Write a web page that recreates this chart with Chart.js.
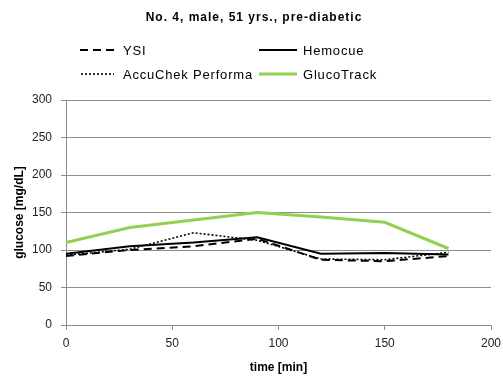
<!DOCTYPE html>
<html><head><meta charset="utf-8">
<script src="https://cdn.jsdelivr.net/npm/chart.js@4/dist/chart.umd.min.js"></script>
<style>html,body{margin:0;padding:0;background:#fff;}#wrap{width:503px;height:376px;position:relative;}</style>
</head><body><div id="wrap"><canvas id="c" width="503" height="376"></canvas></div>
<script>
const chartTitle = "No. 4, male, 51 yrs., pre-diabetic";
const times = [0, 30, 60, 90, 120, 150, 180];
const ysi = [92, 100, 105, 115, 87, 85, 92];
const hemocue = [95, 105, 110, 117, 95, 96, 94];
const accuchek = [93, 101, 123, 113, 88, 87, 97];
const glucotrack = [110, 130, 140, 150, 144, 137, 102];
const xTicks = [0, 50, 100, 150, 200];
const yTicks = [0, 50, 100, 150, 200, 250, 300];

const pts = arr => arr.map((v, i) => ({x: times[i], y: v}));
const FONT = "'Liberation Sans', Arial, sans-serif";

const series = [
  {label: 'YSI', data: ysi, color: '#000', width: 2, dash: [8, 5]},
  {label: 'Hemocue', data: hemocue, color: '#000', width: 2, dash: []},
  {label: 'AccuChek Performa', data: accuchek, color: '#000', width: 1.6, dash: [2, 2]},
  {label: 'GlucoTrack', data: glucotrack, color: '#92D050', width: 3, dash: []}
];

const legendPos = [
  {x1: 80, x2: 119, tx: 123, y: 50},
  {x1: 259, x2: 297, tx: 303, y: 50},
  {x1: 81, x2: 114, tx: 123, y: 74},
  {x1: 259, x2: 297, tx: 303, y: 74}
];

const deco = {
  id: 'deco',
  afterDraw(chart) {
    const ctx = chart.ctx;
    ctx.save();
    ctx.fillStyle = '#000';
    ctx.font = "bold 12px " + FONT;
    ctx.letterSpacing = '1px';
    ctx.textAlign = 'center';
    ctx.textBaseline = 'middle';
    ctx.fillText(chartTitle, 254, 18);
    ctx.font = "13px " + FONT;
    ctx.letterSpacing = '0.8px';
    ctx.textAlign = 'left';
    series.forEach((s, i) => {
      const p = legendPos[i];
      ctx.beginPath();
      ctx.strokeStyle = s.color;
      ctx.lineWidth = s.width;
      ctx.setLineDash(s.dash);
      ctx.moveTo(p.x1, p.y);
      ctx.lineTo(p.x2, p.y);
      ctx.stroke();
      ctx.setLineDash([]);
      ctx.fillText(s.label, p.tx, p.y + 1);
    });
    ctx.restore();
  }
};

new Chart(document.getElementById('c'), {
  type: 'line',
  data: {
    datasets: series.map(s => ({
      label: s.label,
      data: pts(s.data),
      borderColor: s.color,
      backgroundColor: s.color,
      borderWidth: s.width,
      borderDash: s.dash,
      pointRadius: 0,
      tension: 0,
      fill: false
    }))
  },
  options: {
    responsive: false,
    animation: false,
    layout: {padding: {top: 100, right: 12, bottom: 0, left: 8}},
    plugins: {legend: {display: false}, title: {display: false}, tooltip: {enabled: false}},
    scales: {
      x: {
        type: 'linear', min: 0, max: 200,
        afterBuildTicks: sc => { sc.ticks = xTicks.map(v => ({value: v})); },
        afterFit: sc => { sc.height = 51; sc.paddingRight = 0; sc.paddingLeft = 0; },
        grid: {drawOnChartArea: false, drawTicks: true, tickLength: 5, color: '#8c8c8c'},
        border: {color: '#8c8c8c'},
        ticks: {color: '#222', font: {family: FONT, size: 12}, padding: 6, maxRotation: 0},
        title: {display: true, text: 'time [min]', color: '#000', font: {family: FONT, size: 12, weight: 'bold'}, padding: {top: 4, bottom: 1}}
      },
      y: {
        min: 0, max: 300,
        afterBuildTicks: sc => { sc.ticks = yTicks.map(v => ({value: v})); },
        afterFit: sc => { sc.width = 58; },
        grid: {color: '#8c8c8c', tickLength: 5},
        border: {color: '#8c8c8c'},
        ticks: {color: '#222', font: {family: FONT, size: 12}, padding: 9},
        title: {display: true, text: 'glucose [mg/dL]', color: '#000', font: {family: FONT, size: 12, weight: 'bold'}, padding: {bottom: 0}}
      }
    }
  },
  plugins: [deco]
});
</script></body></html>
